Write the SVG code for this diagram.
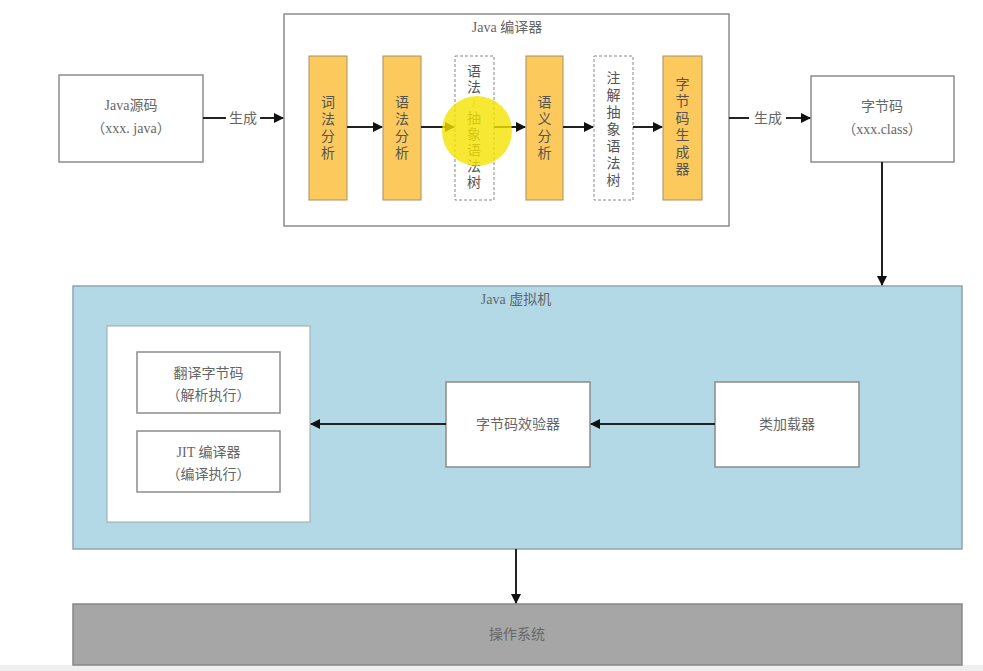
<svg xmlns="http://www.w3.org/2000/svg" width="983" height="671" viewBox="0 0 983 671">
<defs>
<style>
.box{fill:#fff;stroke:#8c8c8c;stroke-width:1.5}
.ybox{fill:#fcc95c;stroke:#a89060;stroke-width:1}
.dbox{fill:#fff;stroke:#888;stroke-width:1;stroke-dasharray:3 2}
.t{font-family:"Liberation Serif","Noto Sans CJK SC",serif;font-size:14px;fill:#666;text-anchor:middle}
.tv{font-family:"Liberation Serif","Noto Sans CJK SC",serif;font-size:14px;fill:#555;text-anchor:middle}
.ln{stroke:#222;stroke-width:2;fill:none}
</style>
<marker id="ah" markerWidth="10" markerHeight="10" refX="9" refY="5" orient="auto" markerUnits="userSpaceOnUse">
<path d="M0,0 L10,5 L0,10 Z" fill="#111"/>
</marker>
</defs>
<rect x="0" y="0" width="983" height="671" fill="#fff"/>
<rect x="0" y="665" width="983" height="6" fill="#efefef"/>

<g id="java-source"><rect class="box" x="59" y="75" width="144" height="87"/>
<text class="t" x="131" y="110">Java源码</text><text class="t" x="131" y="133">（xxx. java）</text></g>

<g id="compiler"><rect class="box" x="284" y="14" width="445" height="212"/>
<text class="t" x="507" y="32">Java 编译器</text></g>

<g id="lex"><rect class="ybox" x="309" y="56" width="38" height="144"/>
<text class="tv" x="328" y="107"><tspan x="328">词</tspan><tspan x="328" dy="17">法</tspan><tspan x="328" dy="17">分</tspan><tspan x="328" dy="17">析</tspan></text></g>

<g id="syntax"><rect class="ybox" x="383" y="56" width="38" height="144"/>
<text class="tv" x="402" y="107"><tspan x="402">语</tspan><tspan x="402" dy="17">法</tspan><tspan x="402" dy="17">分</tspan><tspan x="402" dy="17">析</tspan></text></g>

<g id="ast"><rect class="dbox" x="455" y="56" width="39" height="144"/>
<text class="tv" x="474" y="76" fill="#777"><tspan x="474">语</tspan><tspan x="474" dy="16">法</tspan><tspan x="474" dy="15" font-size="10">/</tspan><tspan x="474" dy="16">抽</tspan><tspan x="474" dy="16">象</tspan><tspan x="474" dy="16">语</tspan><tspan x="474" dy="16">法</tspan><tspan x="474" dy="16">树</tspan></text></g>

<g id="semantic"><rect class="ybox" x="526" y="56" width="37" height="144"/>
<text class="tv" x="544.5" y="107"><tspan x="544.5">语</tspan><tspan x="544.5" dy="17">义</tspan><tspan x="544.5" dy="17">分</tspan><tspan x="544.5" dy="17">析</tspan></text></g>

<g id="annotated-ast"><rect class="dbox" x="594" y="56" width="39" height="144"/>
<text class="tv" x="613.5" y="83"><tspan x="613.5">注</tspan><tspan x="613.5" dy="17">解</tspan><tspan x="613.5" dy="17">抽</tspan><tspan x="613.5" dy="17">象</tspan><tspan x="613.5" dy="17">语</tspan><tspan x="613.5" dy="17">法</tspan><tspan x="613.5" dy="17">树</tspan></text></g>

<g id="bytecode-gen"><rect class="ybox" x="663" y="56" width="39" height="144"/>
<text class="tv" x="682.5" y="89"><tspan x="682.5">字</tspan><tspan x="682.5" dy="17">节</tspan><tspan x="682.5" dy="17">码</tspan><tspan x="682.5" dy="17">生</tspan><tspan x="682.5" dy="17">成</tspan><tspan x="682.5" dy="17">器</tspan></text></g>

<g id="bytecode"><rect class="box" x="811" y="76" width="143" height="86"/>
<text class="t" x="882" y="111">字节码</text><text class="t" x="882" y="134">（xxx.class）</text></g>

<g id="jvm"><rect x="73" y="286" width="889" height="263" fill="#b3d8e6" stroke="#8fa5ad" stroke-width="1.5"/>
<text class="t" x="516" y="304">Java 虚拟机</text></g>

<g id="exec-engine"><rect x="107" y="326" width="203" height="196" fill="#fff" stroke="#9aa" stroke-width="1"/></g>
<g id="interpret"><rect class="box" x="137" y="352" width="143" height="61"/>
<text class="t" x="208.5" y="378">翻译字节码</text><text class="t" x="208.5" y="400">（解析执行）</text></g>
<g id="jit"><rect class="box" x="137" y="431" width="143" height="61"/>
<text class="t" x="208.5" y="457">JIT 编译器</text><text class="t" x="208.5" y="479">（编译执行）</text></g>

<g id="verifier"><rect class="box" x="446" y="382" width="144" height="85"/>
<text class="t" x="518" y="429">字节码效验器</text></g>
<g id="classloader"><rect class="box" x="715" y="382" width="144" height="85"/>
<text class="t" x="787" y="429">类加载器</text></g>

<g id="os"><rect x="73" y="604" width="889" height="61" fill="#a6a6a6" stroke="#888" stroke-width="1.5"/>
<text class="t" x="517" y="639" fill="#333">操作系统</text></g>

<g id="connectors">
<line class="ln" x1="203" y1="118" x2="226" y2="118"/>
<text class="t" x="243" y="123" fill="#555">生成</text>
<line class="ln" x1="260" y1="118" x2="283" y2="118" marker-end="url(#ah)"/>
<line class="ln" x1="347" y1="127" x2="382" y2="127" marker-end="url(#ah)"/>
<line class="ln" x1="421" y1="127" x2="454" y2="127" marker-end="url(#ah)"/>
<line class="ln" x1="494" y1="127" x2="525" y2="127" marker-end="url(#ah)"/>
<line class="ln" x1="563" y1="127" x2="593" y2="127" marker-end="url(#ah)"/>
<line class="ln" x1="633" y1="127" x2="662" y2="127" marker-end="url(#ah)"/>
<line class="ln" x1="729" y1="118" x2="749" y2="118" stroke="#555"/>
<text class="t" x="768" y="123" fill="#777">生成</text>
<line class="ln" x1="786" y1="118" x2="810" y2="118" marker-end="url(#ah)"/>
<line class="ln" x1="882" y1="162" x2="882" y2="285" marker-end="url(#ah)"/>
<line class="ln" x1="715" y1="424" x2="591" y2="424" marker-end="url(#ah)"/>
<line class="ln" x1="446" y1="424" x2="311" y2="424" marker-end="url(#ah)"/>
<line class="ln" x1="516" y1="549" x2="516" y2="603" stroke-width="1.5" marker-end="url(#ah)"/>
</g>

<g id="highlight"><circle cx="477" cy="131" r="35" fill="#f5e400" opacity="0.8"/></g>
</svg>
